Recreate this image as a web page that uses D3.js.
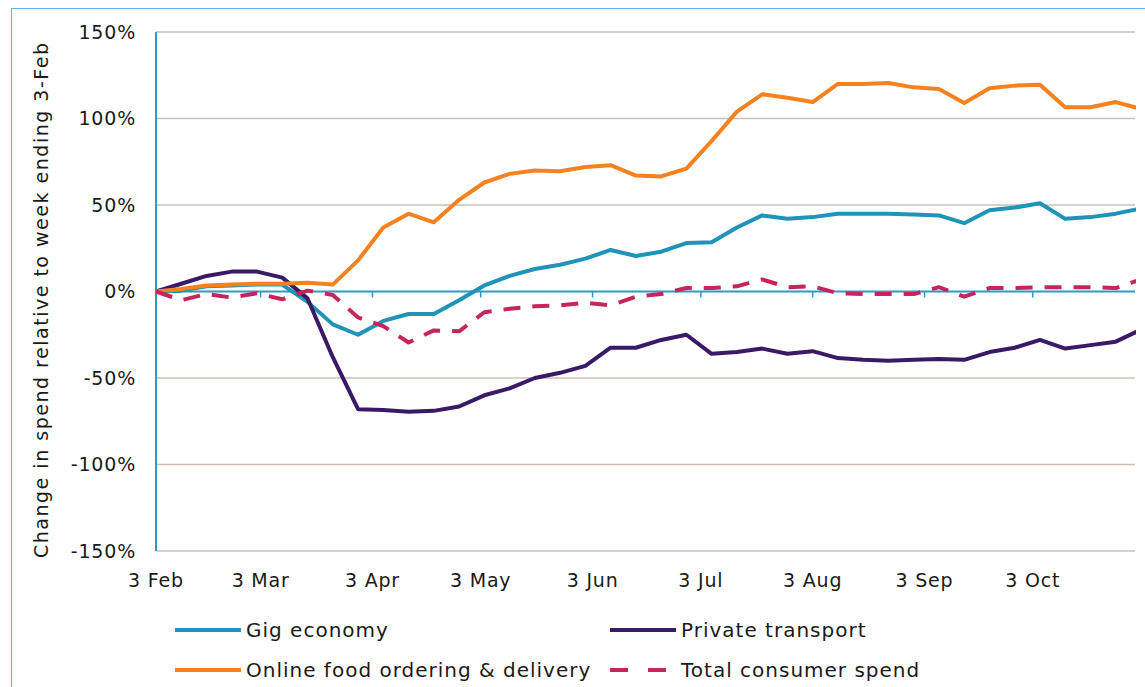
<!DOCTYPE html>
<html>
<head>
<meta charset="utf-8">
<script src="https://cdn.jsdelivr.net/npm/d3@7"></script>
<style>
  body { margin: 0; background: #fff; }
  text { font-family: "DejaVu Sans", sans-serif; fill: #1a1a1a; }
</style>
</head>
<body>
<svg id="chart" width="1145" height="687"></svg>
<script>
// Weekly values, % change relative to week ending 3-Feb (first week = 3 Feb 2020)
var startDate = new Date(2020, 1, 3);
var gigEconomy = [0, 0.5, 3, 3.5, 4, 4, -6, -19, -25, -17, -13, -13, -5, 3.5, 9, 13, 15.5, 19, 24, 20.5,
    23, 28, 28.5, 37, 44, 42, 43, 45, 45, 45, 44.5, 44, 39.5, 47, 48.5, 51, 42, 43, 45, 48];
var privateTransport = [0, 4.5, 9, 11.5, 11.5, 8, -4, -38, -68, -68.5, -69.5, -69, -66.5, -60, -56, -50, -47, -43, -32.5, -32.5,
    -28, -25, -36, -35, -33, -36, -34.5, -38.5, -39.5, -40, -39.5, -39, -39.5, -35, -32.5, -28, -33, -31, -29, -22];
var onlineFood = [0, 1.5, 3.5, 4, 4.5, 4.5, 5, 4, 18, 37, 45, 40, 53, 63, 68, 70, 69.5, 72, 73, 67,
    66.5, 71, 87, 104, 114, 112, 109.5, 120, 120, 120.5, 118, 117, 109, 117.5, 119, 119.5, 106.5, 106.5, 109.5, 105.5];
var totalSpend = [0, -5, -1.5, -3.5, -1, -4.5, 0.5, -2, -15, -20, -29.5, -22.5, -23, -12, -10, -8.5, -8, -6.5, -8, -3,
    -1.5, 2, 2, 3, 7, 2.5, 3, -1, -1.5, -1.5, -1.5, 2.5, -3, 2, 2, 2.5, 2.5, 2.5, 2, 7];
var yTicks = [150, 100, 50, 0, -50, -100, -150];
var monthTicks = ["2020-02-03", "2020-03-03", "2020-04-03", "2020-05-03", "2020-06-03",
    "2020-07-03", "2020-08-03", "2020-09-03", "2020-10-03"];

var seriesList = [
    { name: "Gig economy", values: gigEconomy, color: "#1f93b8", dash: null },
    { name: "Private transport", values: privateTransport, color: "#3a1a67", dash: null },
    { name: "Online food ordering & delivery", values: onlineFood, color: "#f5821f", dash: null },
    { name: "Total consumer spend", values: totalSpend, color: "#c8245c", dash: "17,12" }
];

var weekDates = gigEconomy.map(function (d, i) { return d3.timeDay.offset(startDate, i * 7); });
var monthDates = monthTicks.map(function (s) { return d3.timeParse("%Y-%m-%d")(s); });

var svg = d3.select("#chart"),
    // Plot area edges
    plotLeft = 156,
    plotRight = 1135,
    plotTop = 32,
    plotBottom = 551;

// Outer frame of the figure
svg.append("rect")
    .attr("x", 11.5).attr("y", 8.5)
    .attr("width", 1160).attr("height", 700)
    .style("fill", "none")
    .style("stroke", "#5cb3d6")
    .style("stroke-width", 1);

var x = d3.scaleTime()
    .domain([startDate, weekDates[weekDates.length - 1]])
    .range([plotLeft, 1141]);
var y = d3.scaleLinear().domain([-150, 150]).range([plotBottom, plotTop]);

// Horizontal gridlines (zero is drawn as the axis)
svg.append("g").selectAll("line")
    .data(yTicks.filter(function (d) { return d !== 0; }))
    .enter().append("line")
    .attr("x1", plotLeft).attr("x2", plotRight)
    .attr("y1", function (d) { return y(d); })
    .attr("y2", function (d) { return y(d); })
    .style("stroke", "#c9bfb9")
    .style("stroke-width", 1.5);

// Y labels
svg.append("g").selectAll("text")
    .data(yTicks)
    .enter().append("text")
    .attr("x", 136)
    .attr("y", function (d) { return y(d); })
    .attr("dy", "0.36em")
    .attr("text-anchor", "end")
    .style("font-size", "19px")
    .style("letter-spacing", "0.8px")
    .text(function (d) { return d + "%"; });

// Y axis title
svg.append("text")
    .attr("transform", "translate(48," + ((plotTop + plotBottom) / 2 + 9) + ") rotate(-90)")
    .attr("text-anchor", "middle")
    .attr("textLength", 515)
    .attr("lengthAdjust", "spacing")
    .style("font-size", "19px")
    .text("Change in spend relative to week ending 3-Feb");

// Vertical axis line
svg.append("line")
    .attr("x1", plotLeft).attr("x2", plotLeft)
    .attr("y1", plotTop).attr("y2", plotBottom)
    .style("stroke", "#2b9cc4")
    .style("stroke-width", 2);

// Zero line with month ticks
var xAxis = svg.append("g")
    .attr("transform", "translate(0," + y(0) + ")");
xAxis.append("line")
    .attr("x1", plotLeft).attr("x2", plotRight)
    .style("stroke", "#2b9cc4")
    .style("stroke-width", 2);
xAxis.selectAll("line.tick")
    .data(monthDates)
    .enter().append("line")
    .attr("class", "tick")
    .attr("x1", function (d) { return x(d); })
    .attr("x2", function (d) { return x(d); })
    .attr("y1", 0).attr("y2", 6)
    .style("stroke", "#2b9cc4")
    .style("stroke-width", 1.5);

// Month labels under the plot
svg.append("g").selectAll("text")
    .data(monthDates)
    .enter().append("text")
    .attr("x", function (d) { return x(d); })
    .attr("y", 587)
    .attr("text-anchor", "middle")
    .style("font-size", "19px")
    .style("letter-spacing", "0.8px")
    .text(d3.timeFormat("%-d %b"));

// Clip the lines to the plot width
svg.append("clipPath").attr("id", "plotClip")
    .append("rect")
    .attr("x", plotLeft - 5).attr("y", 0)
    .attr("width", plotRight - plotLeft + 6).attr("height", 687);

var line = d3.line()
    .x(function (d, i) { return x(weekDates[i]); })
    .y(function (d) { return y(d); });

svg.append("g")
    .attr("clip-path", "url(#plotClip)")
    .selectAll("path")
    .data(seriesList)
    .enter().append("path")
    .attr("d", function (s) { return line(s.values); })
    .style("fill", "none")
    .style("stroke", function (s) { return s.color; })
    .style("stroke-width", 4)
    .style("stroke-linejoin", "round")
    .style("stroke-dasharray", function (s) { return s.dash; });

// Legend, two columns by two rows
var legendPos = [[175, 630], [610, 630], [175, 670], [610, 670]];
var legend = svg.append("g").selectAll("g")
    .data(seriesList)
    .enter().append("g")
    .attr("transform", function (s, i) { return "translate(" + legendPos[i][0] + "," + legendPos[i][1] + ")"; });

legend.append("line")
    .attr("x1", 0).attr("x2", 66)
    .style("stroke", function (s) { return s.color; })
    .style("stroke-width", 4)
    .style("stroke-dasharray", function (s) { return s.dash ? "18,20" : null; });

legend.append("text")
    .attr("x", 71)
    .attr("dy", "0.36em")
    .style("font-size", "20px")
    .style("letter-spacing", "1px")
    .text(function (s) { return s.name; });
</script>
</body>
</html>
